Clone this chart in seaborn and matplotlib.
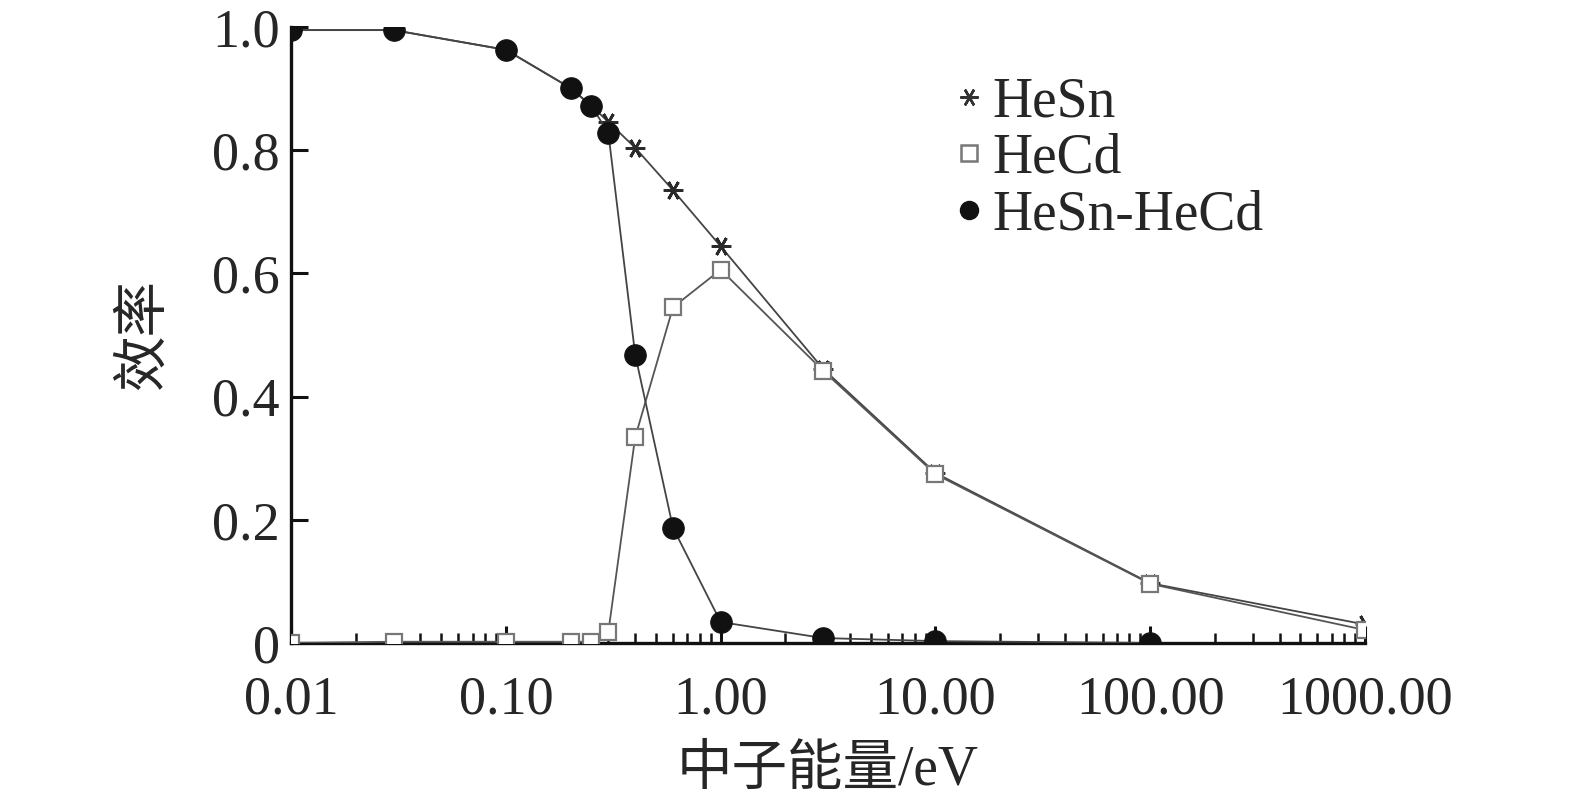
import numpy as np
import pandas as pd
import seaborn as sns
import matplotlib.pyplot as plt
from matplotlib.lines import Line2D

# energies (eV) and efficiencies
energy = [0.01, 0.03, 0.1, 0.2, 0.25, 0.3, 0.4, 0.6, 1.0, 3.0, 10.0, 100.0, 1000.0]
hesn = [0.995, 0.995, 0.963, 0.901, 0.872, 0.846, 0.804, 0.735, 0.644, 0.445, 0.276, 0.097, 0.030]
hecd = [0.0, 0.002, 0.002, 0.002, 0.002, 0.018, 0.334, 0.545, 0.606, 0.442, 0.274, 0.096, 0.021]
hesn_hecd = [0.995, 0.995, 0.963, 0.901, 0.872, 0.828, 0.468, 0.187, 0.034, 0.008, 0.003, 0.0]
names = ['HeSn', 'HeCd', 'HeSn-HeCd']
xticks = [0.01, 0.1, 1, 10, 100, 1000]
xticklabels = ['0.01', '0.10', '1.00', '10.00', '100.00', '1000.00']
yticks = [0, 0.2, 0.4, 0.6, 0.8, 1.0]
yticklabels = ['0', '0.2', '0.4', '0.6', '0.8', '1.0']

sns.set_style('ticks')
plt.rcParams['font.family'] = ['Liberation Serif', 'Noto Sans CJK SC']
plt.rcParams['xtick.direction'] = 'in'
plt.rcParams['ytick.direction'] = 'in'

df1 = pd.DataFrame({'E': energy, 'eff': hesn})
df2 = pd.DataFrame({'E': energy, 'eff': hecd})
df3 = pd.DataFrame({'E': energy[:len(hesn_hecd)], 'eff': hesn_hecd})

star = (6, 2, 90)

fig = plt.figure(figsize=(15.75, 8.02), dpi=100)
ax = fig.add_axes([0.1848, 0.1983, 0.6819, 0.768])

sns.lineplot(data=df1, x='E', y='eff', ax=ax, color='#444444', lw=1.3,
             marker=star, markersize=14, markeredgewidth=2.0,
             markeredgecolor='#2a2a2a', zorder=2)
sns.lineplot(data=df2, x='E', y='eff', ax=ax, color='#555555', lw=1.3,
             marker='s', markersize=11, markerfacecolor='white',
             markeredgecolor='#777777', markeredgewidth=1.6, zorder=3)
sns.lineplot(data=df3, x='E', y='eff', ax=ax, color='#444444', lw=1.3,
             marker='o', markersize=15.5, markerfacecolor='#111111',
             markeredgecolor='#111111', zorder=4)

ax.set_xscale('log')
ax.set_xlim(0.01, 1000)
ax.set_ylim(0, 1.0)
ax.set_xticks(xticks, xticklabels)
ax.set_yticks(yticks, yticklabels)
ax.tick_params(axis='both', which='major', labelsize=39, width=2.2, length=12,
               color='#111111')
ax.tick_params(axis='x', which='minor', width=1.8, length=7, color='#111111')
ax.tick_params(axis='x', pad=23)
ax.tick_params(axis='y', pad=8)
for s in ['top', 'right']:
    ax.spines[s].set_visible(False)
for s in ['left', 'bottom']:
    ax.spines[s].set_linewidth(2.4)
    ax.spines[s].set_color('#111111')

ax.set_xlabel('中子能量/eV', fontsize=40, labelpad=14)
ax.set_ylabel('效率', fontsize=40, labelpad=30)

handles = [
    Line2D([], [], ls='none', marker=star, markersize=13, markeredgewidth=1.8,
           color='#333333'),
    Line2D([], [], ls='none', marker='s', markersize=11, markerfacecolor='white',
           markeredgecolor='#777777', markeredgewidth=1.8),
    Line2D([], [], ls='none', marker='o', markersize=13, color='#111111'),
]
ax.legend(handles, names, loc='upper left', bbox_to_anchor=(0.59, 0.965),
          frameon=False, fontsize=40, handlelength=0.6, handletextpad=0.12,
          labelspacing=0.08, borderpad=0)

plt.savefig('out.png', dpi=100)
